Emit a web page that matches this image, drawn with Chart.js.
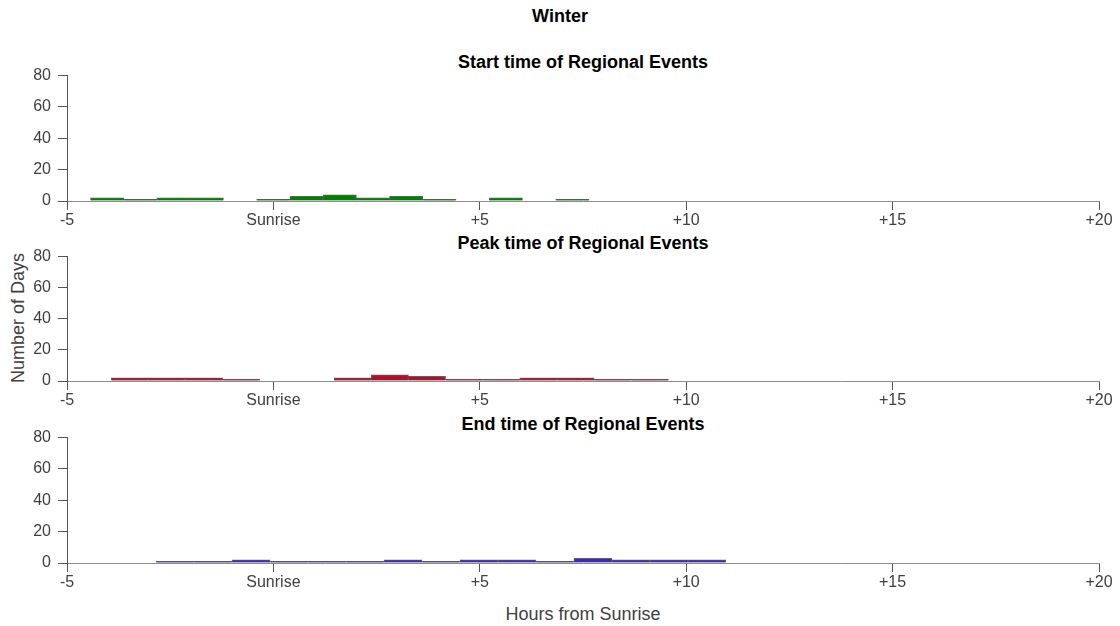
<!DOCTYPE html>
<html>
<head>
<meta charset="utf-8">
<script src="https://cdn.jsdelivr.net/npm/chart.js@4/dist/chart.umd.min.js"></script>
<style>
  html, body { margin: 0; padding: 0; background: #ffffff; }
  body { width: 1120px; height: 626px; position: relative; overflow: hidden;
         font-family: "Liberation Sans", Arial, sans-serif; }
  canvas { position: absolute; left: 0; }
  .t { position: absolute; white-space: nowrap; transform: translate(-50%, -50%); }
  .title { font-weight: bold; font-size: 18px; color: #000; }
  .sub { font-weight: bold; font-size: 18px; color: #000; }
  .lab { font-size: 18px; color: #404040; }
</style>
</head>
<body>
<div class="t title" style="left:560px; top:16px;">Winter</div>
<div class="t sub" style="left:583px; top:62px;">Start time of Regional Events</div>
<div class="t sub" style="left:583px; top:243px;">Peak time of Regional Events</div>
<div class="t sub" style="left:583px; top:424px;">End time of Regional Events</div>
<div class="t lab" style="left:18px; top:318px; transform: translate(-50%, -50%) rotate(-90deg);">Number of Days</div>
<div class="t lab" style="left:583px; top:614px;">Hours from Sunrise</div>

<canvas id="startChart" width="1120" height="172" style="top:59px;"></canvas>
<canvas id="peakChart" width="1120" height="171" style="top:240px;"></canvas>
<canvas id="endChart" width="1120" height="172" style="top:421px;"></canvas>

<script>
// Hour axis ticks and their labels
const hourTicks = [-5, 0, 5, 10, 15, 20];
const hourTickLabels = ['-5', 'Sunrise', '+5', '+10', '+15', '+20'];
const dayTicks = [0, 20, 40, 60, 80];

// Start time histogram: bin centres (hours from sunrise) and day counts
const startBins = [-4.028, -3.223, -2.418, -1.613, -0.808, -0.003, 0.802, 1.607,
                   2.412, 3.217, 4.022, 4.827, 5.632, 6.437, 7.242];
const startCounts = [2, 1, 2, 2, 0, 1, 3, 4, 2, 3, 1, 0, 2, 0, 1];

// Peak time histogram
const peakBins = [-3.48, -2.58, -1.68, -0.78, 0.12, 1.02, 1.92, 2.82,
                  3.72, 4.62, 5.52, 6.42, 7.32, 8.22, 9.12];
const peakCounts = [2, 2, 2, 1, 0, 0, 2, 4, 3, 1, 1, 2, 2, 1, 1];

// End time histogram
const endBins = [-2.38, -1.46, -0.54, 0.38, 1.30, 2.22, 3.14, 4.06,
                 4.98, 5.90, 6.82, 7.74, 8.66, 9.58, 10.50];
const endCounts = [1, 1, 2, 1, 1, 1, 2, 1, 2, 2, 1, 3, 2, 2, 2];

const tickFont = { family: '"Liberation Sans", Arial, sans-serif', size: 16 };
const textGrey = '#404040';

function makeHistogram(id, bins, counts, fill) {
  const points = bins.map((b, i) => ({ x: b, y: counts[i] }));
  return new Chart(document.getElementById(id), {
    type: 'bar',
    data: {
      datasets: [{
        data: points,
        backgroundColor: fill,
        borderColor: 'rgba(30,30,30,0.7)',
        borderWidth: 1,
        borderSkipped: 'start',
        barPercentage: 1.0,
        categoryPercentage: 1.0
      }]
    },
    options: {
      responsive: false,
      animation: false,
      devicePixelRatio: 1,
      layout: { padding: { top: 0, right: 21, left: 0, bottom: 0 } },
      plugins: { legend: { display: false }, tooltip: { enabled: false }, title: { display: false } },
      scales: {
        x: {
          type: 'linear',
          min: -5, max: 20,
          offset: false,
          afterBuildTicks: (scale) => { scale.ticks = hourTicks.map(v => ({ value: v })); },
          afterFit: (scale) => { scale.height = 30; },
          ticks: {
            autoSkip: false, maxRotation: 0, padding: 1,
            color: textGrey, font: tickFont,
            callback: (v) => { const k = hourTicks.indexOf(v); return k >= 0 ? hourTickLabels[k] : ''; }
          },
          grid: { display: true, drawOnChartArea: false, drawTicks: true, tickLength: 9,
                  offset: false, tickColor: '#555555', color: '#555555' },
          border: { display: true, color: '#8c8c8c', width: 1 }
        },
        y: {
          min: 0, max: 80,
          afterBuildTicks: (scale) => { scale.ticks = dayTicks.map(v => ({ value: v })); },
          afterFit: (scale) => { scale.width = 67; },
          ticks: { padding: 7, color: textGrey, font: tickFont },
          grid: { display: true, drawOnChartArea: false, drawTicks: true, tickLength: 9,
                  tickColor: '#555555', color: '#555555' },
          border: { display: true, color: '#555555', width: 1 }
        }
      }
    }
  });
}

makeHistogram('startChart', startBins, startCounts, '#008000');
makeHistogram('peakChart', peakBins, peakCounts, '#a8132d');
makeHistogram('endChart', endBins, endCounts, '#3b2bb0');
</script>
</body>
</html>
